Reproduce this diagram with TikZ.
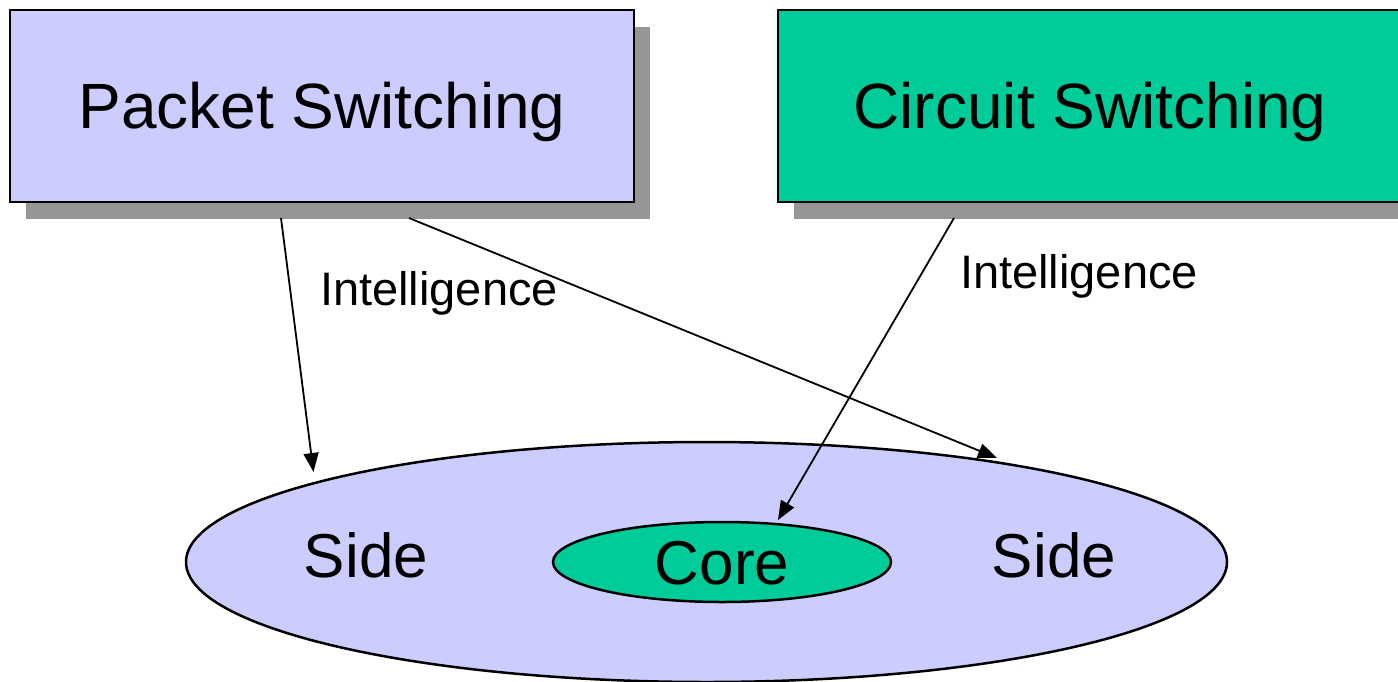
\documentclass[tikz,border=0pt]{standalone}
\usepackage{fontspec}
\setmainfont{Liberation Sans}
\usetikzlibrary{shapes.geometric,shadows,arrows.meta}

\definecolor{lilac}{HTML}{CCCCFF}
\definecolor{teal}{HTML}{00CC99}
\definecolor{shadowgray}{HTML}{969696}

\tikzset{
  switchbox/.style={draw=black, line width=2pt, minimum width=624pt, minimum height=192pt,
    inner sep=0pt, font=\fontsize{64}{70}\selectfont, text height=44pt, text depth=0pt,
    drop shadow={shadow xshift=16pt, shadow yshift=-17pt, fill=shadowgray, opacity=1}},
  zone/.style={ellipse, draw=black, line width=2.5pt, inner sep=0pt},
  bigtext/.style={font=\fontsize{62}{68}\selectfont, anchor=base, inner sep=0pt},
  labeltext/.style={font=\fontsize{47}{52}\selectfont, anchor=base, inner sep=0pt},
  flow/.style={draw=black, line width=1.8pt, -{Triangle[length=19pt,width=15pt]}}
}

\begin{document}
\begin{tikzpicture}[x=1pt, y=-1pt]
  \useasboundingbox (0,0) rectangle (1398,681);
  \clip (0,0) rectangle (1398,681);

  % the two switching paradigms
  \node[switchbox, fill=lilac] (ps) at (322,106) {Packet Switching};
  \node[switchbox, fill=teal]  (cs) at (1090,106) {Circuit Switching};

  % network: outer side region and inner core
  \node[zone, fill=lilac, minimum width=1041pt, minimum height=240pt] (net) at (706.5,562) {};
  \node[zone, fill=teal, minimum width=338pt, minimum height=80pt,
        font=\fontsize{62}{68}\selectfont, text height=44pt, text depth=0pt] (core) at (722,562) {Core};
  \node[bigtext] (sideL) at (366,577) {Side};
  \node[bigtext] (sideR) at (1054,577) {Side};

  % arrow end points
  \coordinate (psA) at (281,218);
  \coordinate (psB) at (409,218);
  \coordinate (csA) at (954,218);
  \coordinate (sideTipL) at (313.5,472);
  \coordinate (sideTipR) at (997,458);
  \coordinate (coreTip) at (778,520);

  \draw[flow] (psA) -- (sideTipL);
  \draw[flow] (psB) -- (sideTipR);
  \draw[flow] (csA) -- (coreTip);

  \node[labeltext] (intL) at (439,305) {Intelligence};
  \node[labeltext] (intR) at (1079,288) {Intelligence};
\end{tikzpicture}
\end{document}
